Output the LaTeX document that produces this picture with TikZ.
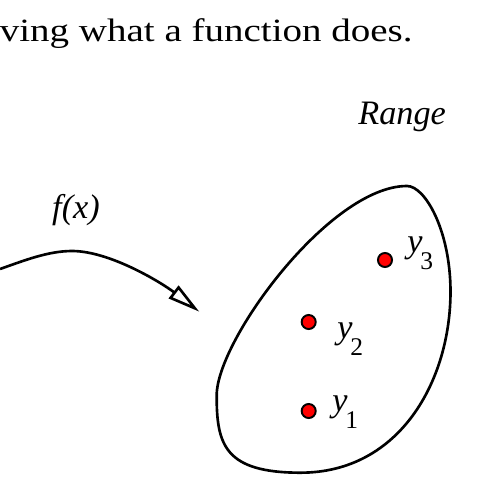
\documentclass[tikz,border=0pt]{standalone}
\usepackage{fontspec}
\setmainfont{Liberation Serif}
\usetikzlibrary{arrows.meta}
\tikzset{
  dotmark/.style={circle, draw=black, fill=red, line width=1.1pt, minimum size=8pt, inner sep=0pt},
  outline/.style={line width=1.5pt},
  fmap/.style={line width=1.5pt, -{Triangle[open, length=18.5pt, width=9pt]}},
  lab/.style={inner sep=0pt, font=\fontsize{19.5}{22}\selectfont\itshape}
}
\newcommand{\ylab}[1]{y\kern-1.2pt\raisebox{-10pt}{\fontsize{14.5}{16}\selectfont\upshape #1}}
\begin{document}
\begin{tikzpicture}[x=0.02cm, y=-0.02cm]
\useasboundingbox (0,0) rectangle (500,500);
% title line
\node[anchor=base east, inner sep=0pt, xscale=1.2, font=\fontsize{18.5}{22}\selectfont] (title) at (413,41.7) {ving what a function does.};
% Range label
\node[lab, anchor=base west] (range) at (358,125) {Range};
% f(x) label
\node[lab, anchor=base, font=\fontsize{19.5}{22}\selectfont\itshape] (flab) at (76,218.3) {f(x)};
% range blob
\coordinate (btop) at (407,186);
\coordinate (bright) at (450.5,290);
\coordinate (bbot) at (300,472.7);
\coordinate (bleft) at (216.7,395);
\draw[outline] (btop) .. controls (425,186) and (450,230) .. (bright)
  .. controls (451,380) and (400,473) .. (bbot)
  .. controls (225,472.5) and (216.4,445) .. (bleft)
  .. controls (217,340) and (330,186) .. (btop) -- cycle;
% mapping arrow
\coordinate (fstart) at (0,269);
\coordinate (fpeak) at (72,251);
\coordinate (ftip) at (199.3,311.7);
\draw[fmap] (fstart) .. controls (24,260.6) and (48,251) .. (fpeak)
  .. controls (110,251) and (162,283) .. (ftip);
% points
\node[dotmark] (d3) at (385,260) {};
\node[dotmark] (d2) at (308.7,322) {};
\node[dotmark] (d1) at (308.7,411) {};
\node[lab, anchor=base west] (l3) at (407,252) {\ylab{3}};
\node[lab, anchor=base west] (l2) at (337,338) {\ylab{2}};
\node[lab, anchor=base west] (l1) at (332,411.4) {\ylab{1}};
\end{tikzpicture}
\end{document}
